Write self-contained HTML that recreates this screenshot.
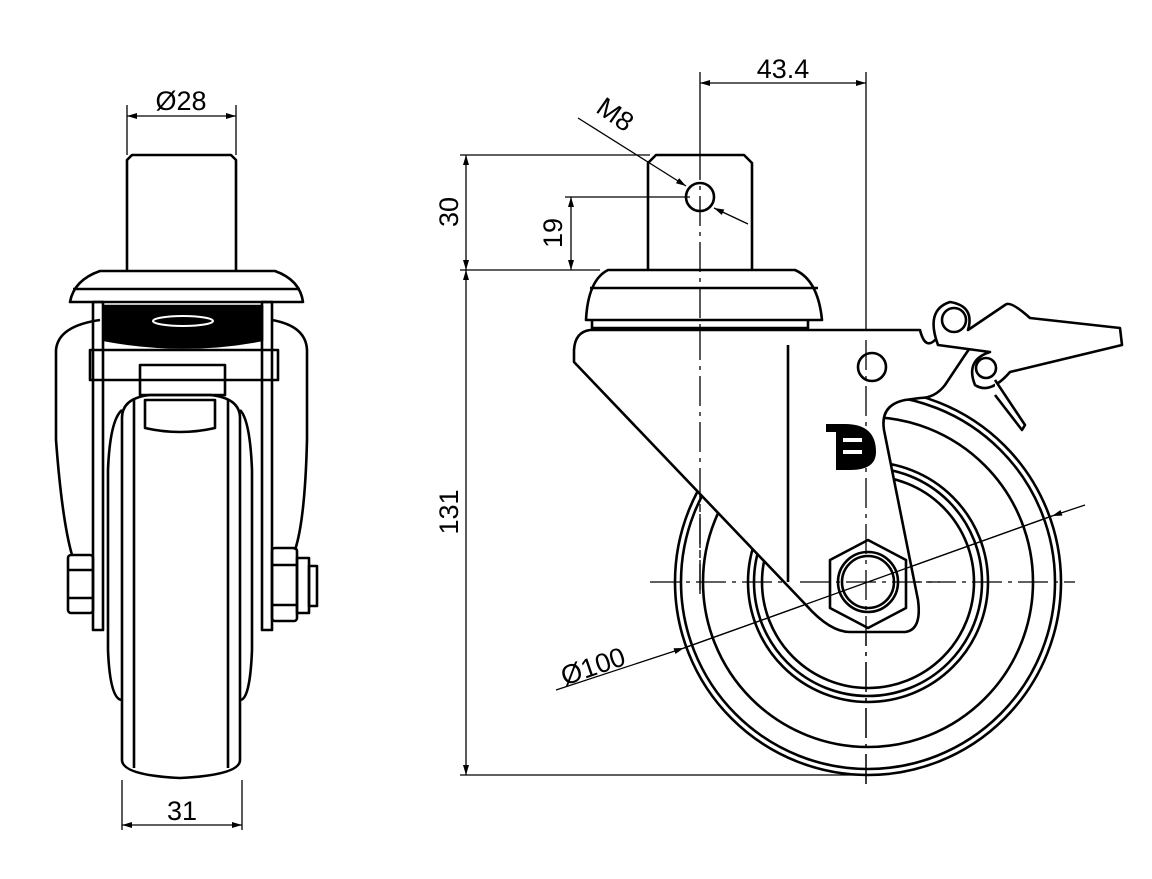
<!DOCTYPE html>
<html><head><style>html,body{margin:0;padding:0;background:#fff}svg{display:block}</style></head>
<body>
<svg width="1152" height="879" viewBox="0 0 1152 879" xmlns="http://www.w3.org/2000/svg">
<defs>
<marker id="a" viewBox="0 0 10 6" refX="10" refY="3" markerWidth="14" markerHeight="6" markerUnits="userSpaceOnUse" orient="auto-start-reverse"><path d="M0,0 L10,3 L0,6z" fill="#000"/></marker>
</defs>
<g fill="none" stroke="#000" stroke-width="1.3">
<line x1="127" y1="105" x2="127" y2="155"/><line x1="236" y1="105" x2="236" y2="155"/>
<line x1="127" y1="116" x2="236" y2="116" marker-start="url(#a)" marker-end="url(#a)"/>
<line x1="122" y1="780" x2="122" y2="830"/><line x1="242" y1="780" x2="242" y2="830"/>
<line x1="122" y1="825" x2="242" y2="825" marker-start="url(#a)" marker-end="url(#a)"/>
<line x1="700" y1="72" x2="700" y2="150"/><line x1="866" y1="72" x2="866" y2="340"/>
<line x1="700" y1="83" x2="866" y2="83" marker-start="url(#a)" marker-end="url(#a)"/>
<line x1="460" y1="155" x2="650" y2="155"/><line x1="565" y1="197" x2="690" y2="197"/>
<line x1="460" y1="270" x2="600" y2="270"/><line x1="460" y1="775" x2="868" y2="775"/>
<line x1="466" y1="155" x2="466" y2="270" marker-start="url(#a)" marker-end="url(#a)"/>
<line x1="571" y1="197" x2="571" y2="270" marker-start="url(#a)" marker-end="url(#a)"/>
<line x1="466" y1="270" x2="466" y2="775" marker-start="url(#a)" marker-end="url(#a)"/>
<line x1="578" y1="118" x2="686" y2="186" marker-end="url(#a)"/>
<line x1="714" y1="208" x2="748" y2="224" marker-start="url(#a)"/>
<line x1="556" y1="690" x2="684" y2="648" marker-end="url(#a)"/>
<line x1="684" y1="648" x2="1052" y2="516"/>
<line x1="1085" y1="505" x2="1052" y2="516" marker-end="url(#a)"/>
<line x1="700" y1="150" x2="700" y2="600" stroke-dasharray="30,6,4,6"/>
<line x1="866" y1="340" x2="866" y2="790" stroke-dasharray="30,6,4,6"/>
<line x1="650" y1="582" x2="1075" y2="582" stroke-dasharray="30,6,4,6"/>
</g>
<g font-family="Liberation Sans, sans-serif" font-size="27" fill="#000">
<text x="181" y="110" text-anchor="middle">Ø28</text>
<text x="182" y="820" text-anchor="middle">31</text>
<text x="783" y="78" text-anchor="middle">43.4</text>
<text transform="translate(458,212) rotate(-90)" text-anchor="middle">30</text>
<text transform="translate(562,233) rotate(-90)" text-anchor="middle">19</text>
<text transform="translate(458,512) rotate(-90)" text-anchor="middle">131</text>
<text transform="translate(610,122) rotate(35)" text-anchor="middle">M8</text>
<text transform="translate(596,675) rotate(-19)" text-anchor="middle">Ø100</text>
<text x="858" y="496" font-family="Liberation Serif, serif" font-size="22" text-anchor="middle">4</text>
</g>
<g fill="none" stroke="#000" stroke-width="2.6" stroke-linejoin="round">
<path d="M127,270 V160 L132,155 H231 L236,160 V270"/>
<path d="M70,302 Q74,280 100,271 H275 Q300,280 303,302 Z"/>
<line x1="73" y1="289" x2="300" y2="289"/>
<path d="M100,320 Q58,326 56,350 V440 Q62,520 72,555"/>
<path d="M272,320 Q306,326 307,350 V440 Q305,520 295,550"/>
<rect x="93" y="302" width="10" height="328"/><rect x="262" y="302" width="10" height="328"/>
<path d="M104,306 H262 V340 Q185,355 104,340 Z" fill="#000"/>
<ellipse cx="183" cy="321" rx="30" ry="5" stroke="#fff" stroke-width="2"/>
<path d="M90,350 H278 V380 H90 Z"/>
<path d="M140,365 H225 V395 H140 Z"/>
<path d="M122,418 Q122,398 150,395 H210 Q240,398 240,418 V760 Q240,775 180,778 Q122,775 122,760 Z"/>
<path d="M108,470 Q110,420 122,410 M252,470 Q250,420 240,410"/>
<path d="M108,470 V650 Q110,700 122,700 M252,470 V650 Q250,700 240,700"/>
<line x1="134" y1="400" x2="134" y2="768"/><line x1="228" y1="400" x2="228" y2="768"/>
<path d="M145,400 H215 V428 Q180,436 145,428 Z"/>
<rect x="68" y="555" width="25" height="58" rx="3"/><line x1="68" y1="570" x2="93" y2="570"/><line x1="68" y1="598" x2="93" y2="598"/>
<rect x="272" y="548" width="25" height="73" rx="3"/><line x1="272" y1="565" x2="297" y2="565"/><line x1="272" y1="605" x2="297" y2="605"/>
<rect x="297" y="558" width="12" height="55"/><rect x="309" y="566" width="8" height="40"/>
<circle cx="868" cy="582" r="193"/><circle cx="868" cy="582" r="187"/>
<circle cx="868" cy="582" r="165"/>
<circle cx="868" cy="582" r="120"/><circle cx="868" cy="582" r="114"/><circle cx="868" cy="582" r="106"/>
<path d="M648,270 V163 L656,155 H744 L752,163 V270"/>
<circle cx="700" cy="197" r="14"/>
<path d="M586,320 Q588,280 608,270 H795 Q818,280 822,320 Z"/>
<line x1="590" y1="288" x2="818" y2="288"/>
<path d="M592,320 V328 H808 V320"/>
</g>
<g fill="#fff" stroke="#000" stroke-width="2.6" stroke-linejoin="round">
<path d="M590,330 Q575,332 574,350 V362 L806,605 Q830,632 850,632 H905 Q922,630 918,600 L884,430 Q880,405 905,400 L920,398 Q935,398 945,385 L965,355 L972,345 Q968,333 955,340 L935,340 Q925,350 920,330 Z"/>
<path d="M938,345 Q925,310 950,302 Q975,306 968,330 L1005,305 Q1010,300 1030,318 L1120,328 L1122,345 L1010,372 Q990,395 975,385 Q965,360 990,352 Z"/>
<circle cx="954" cy="320" r="12"/>
<circle cx="986" cy="368" r="10"/>
<path d="M995,380 L1025,425 L1022,430 L995,395"/>
<path d="M830,608 V560 L868,540 L906,560 V608 L868,628 L830,608 Z"/>
<circle cx="868" cy="582" r="30"/><circle cx="868" cy="582" r="26"/>
<circle cx="872" cy="367" r="14"/>
</g>
<g fill="none" stroke="#000" stroke-width="2.6">
<line x1="788" y1="345" x2="788" y2="582"/>
</g>
<g fill="#000">
<path d="M826,424 H845 Q876,424 876,452 Q876,470 850,470 H836 V432 H826 Z"/>
<path d="M843,440 H862 M843,452 H862" stroke="#fff" stroke-width="4"/>
</g>
<g fill="none" stroke="#000" stroke-width="1.3">
<line x1="866" y1="340" x2="866" y2="790" stroke-dasharray="30,6,4,6"/>
<line x1="800" y1="582" x2="940" y2="582" stroke-dasharray="30,6,4,6"/>
<line x1="700" y1="330" x2="700" y2="590" stroke-dasharray="30,6,4,6"/>
<line x1="684" y1="648" x2="1052" y2="516"/>
</g>
</svg>
</body></html>
